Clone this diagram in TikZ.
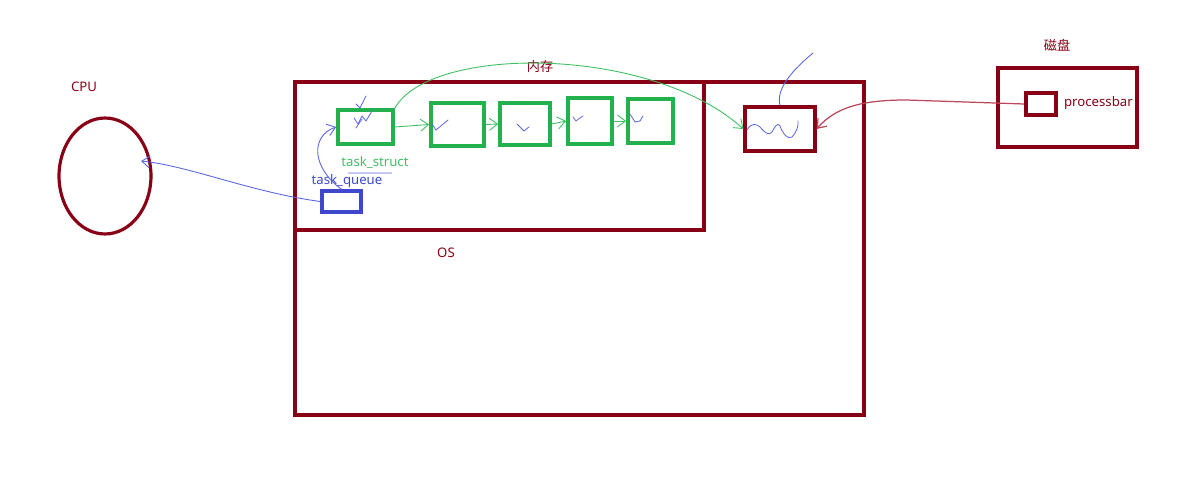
\documentclass[tikz,border=0pt]{standalone}
\usepackage{fontspec}
\setmainfont{Noto Sans}
\newfontfamily\cjk{Noto Sans CJK SC}
\usepackage{tikz}
\usetikzlibrary{arrows.meta,shapes.geometric}
\definecolor{darkred}{HTML}{880015}
\definecolor{boxgreen}{HTML}{22B14C}
\definecolor{indigo}{HTML}{3F48CC}
\definecolor{penblue}{HTML}{5A66E0}
\definecolor{pengreen}{HTML}{3CC060}
\definecolor{penred}{HTML}{B8485A}
\tikzset{
  redbox/.style={draw=darkred, line width=1.8pt, fill=none, inner sep=0pt},
  taskbox/.style={draw=boxgreen, line width=2.1pt, inner sep=0pt},
  queuebox/.style={draw=indigo, line width=2pt, inner sep=0pt},
  redlabel/.style={font=\fontsize{7.5}{9}\selectfont, text=darkred, inner sep=1pt},
  greenlabel/.style={font=\fontsize{7.5}{9}\selectfont, text=boxgreen!85, inner sep=1pt},
  bluelabel/.style={font=\fontsize{7.5}{9}\selectfont, text=indigo, inner sep=1pt},
  blueedge/.style={draw=penblue, line width=0.5pt, -{Straight Barb[length=1.6mm,width=2.4mm]}},
  greenedge/.style={draw=pengreen, line width=0.5pt, -{Straight Barb[length=1.6mm,width=2.4mm]}},
  rededge/.style={draw=penred, line width=0.7pt, -{Straight Barb[length=1.6mm,width=2.4mm]}},
  scribble/.style={draw=penblue, line width=0.45pt, line join=round, line cap=round}
}

\begin{document}
\begin{tikzpicture}[x=0.02cm,y=-0.02cm]
\useasboundingbox[fill=white] (0,0) rectangle (1191,500);

% cpu
\node[redlabel] (cpulabel) at (84,87) {CPU};
\node[ellipse, draw=darkred, line width=1.8pt, minimum width=1.84cm, minimum height=2.32cm] (cpu) at (105,176) {};

% os and memory
\node[redbox, minimum width=11.38cm, minimum height=6.66cm] (os) at (579.5,248.5) {};
\node[redbox, minimum width=8.18cm, minimum height=2.96cm] (mem) at (499.5,156) {};
\node[redlabel] (oslabel) at (446,253) {OS};
\node[redlabel] (memlabel) at (540,67) {\cjk 内存};

% task_struct list
\node[taskbox, minimum width=1.10cm, minimum height=0.68cm] (t1) at (365.5,127) {};
\node[taskbox, minimum width=1.06cm, minimum height=0.86cm] (t2) at (457.5,124.5) {};
\node[taskbox, minimum width=1.00cm, minimum height=0.84cm] (t3) at (525,124) {};
\node[taskbox, minimum width=0.88cm, minimum height=0.92cm] (t4) at (590,121) {};
\node[taskbox, minimum width=0.90cm, minimum height=0.88cm] (t5) at (650.5,121) {};
\node[greenlabel] (structlabel) at (375,163) {task\_struct};
\node[bluelabel] (queuelabel) at (347,181) {task\_queue};
\node[queuebox, minimum width=0.78cm, minimum height=0.42cm] (queue) at (341.5,201.5) {};

% process in memory
\node[redbox, minimum width=1.40cm, minimum height=0.88cm] (proc) at (780,129) {};

% disk
\node[redbox, minimum width=2.78cm, minimum height=1.58cm] (disk) at (1067.5,107.5) {};
\node[redlabel] (disklabel) at (1057,45) {\cjk 磁盘};
\node[redbox, minimum width=0.60cm, minimum height=0.44cm] (pb) at (1041,104) {};
\node[redlabel, anchor=west] (pblabel) at (1062,103) {processbar};

% connectors
\draw[blueedge] (queue.west) .. controls (250,192) and (190,166) .. ([xshift=-0.2cm]cpu.18);
\draw[blueedge] (queue.north) .. controls (312,168) and (310,136) .. (t1.west);
\draw[greenedge] (t1.east) -- (t2.west);
\draw[greenedge] (t2.east) -- (t3.west);
\draw[greenedge] (t3.east) -- (t4.west);
\draw[greenedge] (t4.east) -- (t5.west);
\draw[greenedge] (t1.north east) .. controls (430,45) and (650,45) .. (proc.west);
\coordinate (ptr) at (813,53);
\draw[draw=penblue, line width=0.5pt] (ptr) .. controls (790,72) and (776,90) .. (proc.north);
\draw[rededge] (pb.west) -- ++(-118,-4) .. controls (860,100) and (835,108) .. (proc.east);

% scribbles
\draw[draw=penblue!35, line width=0.9pt] (348,173) -- (392,173);
\draw[scribble] (356,104) -- (360,108) -- (366,96);
\draw[scribble] (354,118) -- (358,124) -- (362,116) -- (366,121) -- (372,111);
\draw[scribble] (356,128) -- (362,119);
\draw[scribble] (432,124) -- (436,130) -- (448,120);
\draw[scribble] (517,124) -- (524,131) -- (529,127);
\draw[scribble] (573,117) -- (576,121) -- (580,118) -- (583,116);
\draw[scribble] (630,114) -- (635,122) -- (640,121) -- (643,116);
\draw[scribble] (747,130) .. controls (752,122) and (756,124) .. (760,127)
  .. controls (765,133) and (769,136) .. (772,132)
  .. controls (775,126) and (778,122) .. (780,126)
  .. controls (783,134) and (788,140) .. (792,137)
  .. controls (796,133) and (799,126) .. (798,121);
\end{tikzpicture}
\end{document}
